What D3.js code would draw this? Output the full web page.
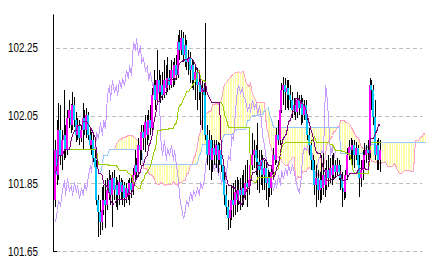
<!DOCTYPE html>
<meta charset="utf-8">
<style>
    body { margin: 0; background: #fff; }
    svg { display: block; }
    .axis text { font-family: "Liberation Sans", Arial, sans-serif; font-size: 12.5px; fill: #000; }
    .axis path { stroke: #000; }
    .grid line { stroke: #bdbdbd; stroke-dasharray: 4,3; }
</style>
<svg width="431" height="265"></svg>
<script src="https://d3js.org/d3.v7.min.js"></script>
<script>

    // y axis tick labels
    var yTicks = [101.65, 101.85, 102.05, 102.25];

    // candle data, one value per bar
    var opens = [
        101.801,101.948,101.874,102.007,101.933,101.978,101.992,101.948,102.043,102.066,
        102.022,102.081,102.037,101.992,102.022,101.983,102.007,102.043,102.007,102.051,
        101.992,101.963,101.978,101.925,101.898,101.801,101.765,101.736,101.771,101.801,
        101.786,101.830,101.860,101.815,101.866,101.830,101.845,101.815,101.854,101.824,
        101.845,101.807,101.836,101.815,101.851,101.830,101.874,101.904,101.883,101.963,
        101.948,102.001,101.983,102.031,101.992,102.037,102.013,102.110,102.140,102.096,
        102.155,102.119,102.140,102.110,102.155,102.131,102.161,102.140,102.184,102.161,
        102.199,102.170,102.267,102.243,102.279,102.229,102.258,102.208,102.220,102.184,
        102.199,102.155,102.178,102.140,102.149,102.119,102.131,102.110,101.992,101.933,
        101.978,101.919,101.954,101.933,101.963,101.919,101.948,101.904,101.860,101.815,
        101.780,101.748,101.771,101.801,101.786,101.824,101.801,101.830,101.815,101.836,
        101.815,101.851,101.839,101.860,101.904,101.933,101.948,101.925,101.913,101.889,
        101.919,101.874,101.895,101.851,101.866,101.836,101.883,101.933,101.919,101.992,
        101.978,102.066,102.125,102.140,102.119,102.131,102.110,102.096,102.066,102.081,
        102.060,102.096,102.072,102.090,102.051,102.081,102.037,101.992,101.963,101.919,
        101.889,101.845,101.866,101.830,101.860,101.836,101.874,101.845,101.889,101.866,
        101.895,101.874,101.904,101.883,101.904,101.883,101.866,101.836,101.824,101.874,
        101.933,101.957,101.948,101.963,101.933,101.954,101.904,101.866,101.889,101.919,
        101.933,101.948,101.939,102.140,102.125,102.045,101.933,101.963,101.919
    ];
    var highs = [
        101.978,102.037,102.087,102.081,102.007,102.125,102.022,102.066,102.096,102.084,
        102.119,102.104,102.060,102.043,102.037,102.022,102.087,102.066,102.072,102.060,
        102.013,102.001,101.992,101.948,101.919,101.816,101.801,101.839,101.845,101.860,
        101.866,101.889,101.874,101.883,101.889,101.868,101.860,101.874,101.866,101.860,
        101.854,101.851,101.860,101.866,101.871,101.895,101.948,101.925,101.983,101.983,
        102.022,102.022,102.051,102.051,102.066,102.081,102.131,102.184,102.155,102.243,
        102.184,102.170,102.178,102.214,102.199,102.223,102.184,102.214,102.208,102.220,
        102.229,102.288,102.302,102.302,102.296,102.288,102.273,102.243,102.237,102.214,
        102.208,102.193,102.190,102.170,102.161,102.155,102.146,102.323,102.022,102.007,
        101.992,101.978,101.978,101.978,101.972,101.969,101.963,101.919,101.889,101.845,
        101.801,101.786,101.845,101.851,101.860,101.868,101.860,101.866,101.874,101.889,
        101.904,101.919,101.904,101.933,101.998,101.978,101.963,102.028,101.948,101.948,
        101.933,101.919,101.919,101.889,101.883,101.904,101.954,101.978,102.013,102.037,
        102.096,102.146,102.164,102.161,102.155,102.155,102.140,102.119,102.102,102.096,
        102.119,102.110,102.110,102.102,102.096,102.096,102.051,102.013,101.978,101.933,
        101.919,101.904,101.889,101.883,101.933,101.939,101.895,101.919,101.933,101.925,
        101.933,101.939,101.919,101.925,101.919,101.904,101.883,101.874,101.889,101.954,
        101.978,101.983,101.978,101.978,101.972,101.963,101.933,101.919,101.948,101.969,
        101.963,101.978,102.161,102.155,102.140,102.096,101.978,101.983,101.978
    ];
    var lows = [
        101.780,101.845,101.860,101.904,101.889,101.919,101.925,101.933,102.013,101.998,
        102.007,102.016,101.972,101.978,101.963,101.972,101.948,101.992,101.983,101.978,
        101.948,101.933,101.913,101.883,101.786,101.691,101.697,101.712,101.756,101.718,
        101.771,101.801,101.786,101.721,101.801,101.780,101.771,101.786,101.801,101.786,
        101.780,101.792,101.801,101.786,101.807,101.815,101.854,101.860,101.868,101.904,
        101.919,101.948,101.942,101.963,101.978,101.992,102.001,102.096,102.066,102.081,
        102.096,102.087,102.096,102.102,102.110,102.119,102.125,102.131,102.134,102.140,
        102.155,102.161,102.214,102.229,102.208,102.193,102.184,102.170,102.146,102.131,
        102.125,102.096,102.066,102.096,102.022,102.007,102.051,101.978,101.904,101.889,
        101.860,101.883,101.904,101.895,101.880,101.904,101.883,101.830,101.786,101.756,
        101.712,101.718,101.742,101.751,101.756,101.765,101.786,101.771,101.780,101.786,
        101.801,101.780,101.815,101.845,101.889,101.895,101.874,101.830,101.821,101.845,
        101.830,101.830,101.801,101.780,101.809,101.815,101.860,101.904,101.910,101.963,
        101.963,102.057,102.081,102.066,102.072,102.066,102.072,102.043,102.051,102.037,
        102.043,102.051,102.022,102.028,102.037,102.007,101.978,101.933,101.889,101.860,
        101.815,101.780,101.801,101.792,101.801,101.815,101.809,101.830,101.839,101.851,
        101.845,101.860,101.866,101.874,101.860,101.830,101.780,101.801,101.807,101.860,
        101.919,101.919,101.904,101.895,101.919,101.874,101.809,101.839,101.860,101.895,
        101.910,101.919,101.925,102.066,102.022,101.919,101.889,101.889,101.883
    ];
    var closes = [
        101.948,101.874,102.007,101.933,101.978,101.992,101.948,102.043,102.066,102.022,
        102.081,102.037,101.992,102.022,101.983,102.007,102.043,102.007,102.051,101.992,
        101.963,101.978,101.925,101.898,101.801,101.765,101.736,101.771,101.801,101.786,
        101.830,101.860,101.815,101.866,101.830,101.845,101.815,101.854,101.824,101.845,
        101.807,101.836,101.815,101.851,101.830,101.874,101.904,101.883,101.963,101.948,
        102.001,101.983,102.031,101.992,102.037,102.013,102.110,102.140,102.096,102.155,
        102.119,102.140,102.110,102.155,102.131,102.161,102.140,102.184,102.161,102.199,
        102.170,102.267,102.243,102.279,102.229,102.258,102.208,102.220,102.184,102.199,
        102.155,102.178,102.140,102.149,102.119,102.131,102.110,101.992,101.933,101.978,
        101.919,101.954,101.933,101.963,101.919,101.948,101.904,101.860,101.815,101.780,
        101.748,101.771,101.801,101.786,101.824,101.801,101.830,101.815,101.836,101.815,
        101.851,101.839,101.860,101.904,101.933,101.948,101.925,101.913,101.889,101.919,
        101.874,101.895,101.851,101.866,101.836,101.883,101.933,101.919,101.992,101.978,
        102.066,102.125,102.140,102.119,102.131,102.110,102.096,102.066,102.081,102.060,
        102.096,102.072,102.090,102.051,102.081,102.037,101.992,101.963,101.919,101.889,
        101.845,101.866,101.830,101.860,101.836,101.874,101.845,101.889,101.866,101.895,
        101.874,101.904,101.883,101.904,101.883,101.866,101.836,101.824,101.874,101.933,
        101.957,101.948,101.963,101.933,101.954,101.904,101.866,101.889,101.919,101.933,
        101.948,101.939,102.140,102.125,102.045,101.933,101.963,101.919,101.948
    ];

    var shift = 26;   // ichimoku displacement

    var svg = d3.select("svg");

    var x = d3.scaleLinear().domain([0, closes.length - 1 + shift]).range([55, 425]),
        y = d3.scaleLinear().domain([101.65, 102.35]).range([251, 14]);

    // ichimoku lines from the candles
    function midRange(i, n) {
        var lo = Math.max(0, i - n + 1);
        return (d3.max(highs.slice(lo, i + 1)) + d3.min(lows.slice(lo, i + 1))) / 2;
    }
    var tenkan = closes.map(function(d, i) { return midRange(i, 9); }),
        kijun = closes.map(function(d, i) { return midRange(i, 26); }),
        spanA = closes.map(function(d, i) { return (tenkan[i] + kijun[i]) / 2; }),
        spanB = closes.map(function(d, i) { return midRange(i, 52); });

    svg.append("rect").attr("width", 431).attr("height", 265).attr("fill", "#fff");

    svg.append("defs").append("clipPath").attr("id", "plot")
        .append("rect").attr("x", 54).attr("y", 14).attr("width", 373).attr("height", 238);

    // grid
    svg.append("g").attr("class", "grid")
        .selectAll("line").data(yTicks).enter().append("line")
        .attr("x1", 56).attr("x2", 422)
        .attr("y1", function(d) { return Math.round(y(d)) + 0.5; })
        .attr("y2", function(d) { return Math.round(y(d)) + 0.5; })
        .attr("shape-rendering", "crispEdges");

    var g = svg.append("g").attr("clip-path", "url(#plot)").attr("shape-rendering", "crispEdges");

    // cloud stripes
    g.append("g").selectAll("line").data(spanA).enter().append("line")
        .attr("x1", function(d, i) { return Math.round(x(i + shift)) + 0.5; })
        .attr("x2", function(d, i) { return Math.round(x(i + shift)) + 0.5; })
        .attr("y1", function(d) { return y(d); })
        .attr("y2", function(d, i) { return y(spanB[i]); })
        .attr("stroke", "#ffffa8");

    function drawLine(data, offset, color) {
        g.append("path")
            .datum(data)
            .attr("fill", "none")
            .attr("stroke", color)
            .attr("stroke-width", 1)
            .attr("d", d3.line()
                .x(function(d, i) { return Math.round(x(i + offset)) + 0.5; })
                .y(function(d) { return Math.round(y(d)) + 0.5; }));
    }

    drawLine(spanA, shift, "#ffa0c8");
    drawLine(spanB, shift, "#98c8ff");
    drawLine(closes.slice(shift), 0, "#c89cff");

    // candles
    var candle = g.append("g").selectAll("g").data(closes).enter().append("g");

    candle.append("line")
        .attr("x1", function(d, i) { return Math.round(x(i)) + 0.5; })
        .attr("x2", function(d, i) { return Math.round(x(i)) + 0.5; })
        .attr("y1", function(d, i) { return y(highs[i]); })
        .attr("y2", function(d, i) { return y(lows[i]); })
        .attr("stroke", "#000");

    candle.append("rect")
        .attr("x", function(d, i) { return Math.round(x(i)) - 1; })
        .attr("width", 2)
        .attr("y", function(d, i) { return y(Math.max(opens[i], d)); })
        .attr("height", function(d, i) { return Math.max(1, Math.abs(y(opens[i]) - y(d))); })
        .attr("fill", function(d, i) { return d >= opens[i] ? "#ff00ff" : "#00c8ff"; });

    drawLine(kijun, 0, "#9acd00");
    drawLine(tenkan, 0, "#800080");

    // y axis
    svg.append("g")
        .attr("class", "axis")
        .attr("transform", "translate(53,0)")
        .call(d3.axisLeft(y).tickValues(yTicks).tickFormat(d3.format(".2f"))
            .tickSize(0).tickSizeOuter(0).tickPadding(15))
        .call(function(a) {
            a.selectAll("text").attr("textLength", 30).attr("lengthAdjust", "spacingAndGlyphs");
        });

    svg.append("line")
        .attr("x1", 53).attr("x2", 57)
        .attr("y1", Math.round(y(101.65)) + 0.5).attr("y2", Math.round(y(101.65)) + 0.5)
        .attr("stroke", "#000").attr("shape-rendering", "crispEdges");
</script>
